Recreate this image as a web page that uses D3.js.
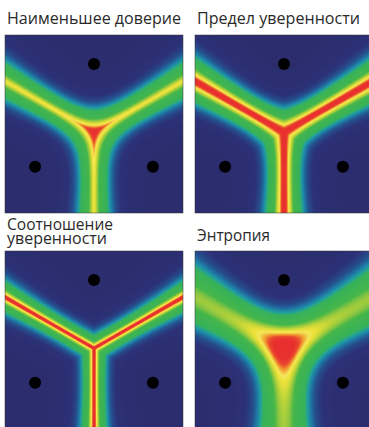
<!DOCTYPE html>
<html>
<head>
<meta charset="utf-8">
<script src="https://cdn.jsdelivr.net/npm/d3@7"></script>
<style>
  html, body { margin: 0; padding: 0; background: #fff; }
  svg { display: block; }
  text { font-family: "Open Sans", "Noto Sans", sans-serif; fill: #2a2a2a; }
</style>
</head>
<body>
<svg id="chart" width="369" height="427"></svg>
<script>
// Uncertainty sampling measures over a 2D feature space with three classes.
const titles = [
  ["Наименьшее доверие"],
  ["Предел уверенности"],
  ["Соотношение", "уверенности"],
  ["Энтропия"]
];
const measures = ["leastConfidence", "marginConfidence", "ratioConfidence", "entropy"];

// Class centres in the unit square (y points up).
const centerX = [0.5, 0.169, 0.831];
const centerY = [0.837, 0.26, 0.26];

// Class model p_c ∝ exp(-gamma * d_c^power).
const gamma = 11.5;
const power = 1.5;

// Colour ramp for normalised uncertainty (0 = certain, 1 = most uncertain).
const rampStops = [0, 0.09, 0.16, 0.22, 0.27, 0.32, 0.55, 0.62, 0.68, 0.73, 0.77, 0.82, 0.87, 0.93, 1];
const rampColors = ["#2b2d6e", "#2c3177", "#24508f", "#1e7fa6", "#22a29a", "#37b15a", "#44b64a",
                    "#8cc640", "#c8d838", "#eee13a", "#f4e65a", "#f0a030", "#ea4a2e", "#e8302e", "#e8302e"];

const svg = d3.select("#chart");
const size = 178;
const panels = [
  { x: 5,   y: 35 },
  { x: 195, y: 35 },
  { x: 5,   y: 251 },
  { x: 195, y: 251 }
];
const titleBaselines = [24, 24, 230, 241];
const titleWidths = [[174], [163], [106, 100], [73]];

const color = d3.scaleLinear().domain(rampStops).range(rampColors)
  .interpolate(d3.interpolateRgb).clamp(true);

const sx = d3.scaleLinear().domain([0, 1]).range([0, size]);
const sy = d3.scaleLinear().domain([0, 1]).range([size, 0]);

function probs(x, y) {
  const e = centerX.map((cx, i) => {
    const dx = x - cx, dy = y - centerY[i];
    return Math.exp(-gamma * Math.pow(dx * dx + dy * dy, power / 2));
  });
  const s = d3.sum(e);
  return e.map(v => v / s);
}

const measureFn = {
  leastConfidence: p => (1 - d3.max(p)) / (1 - 1 / p.length),
  marginConfidence: p => { const q = p.slice().sort(d3.descending); return 1 - (q[0] - q[1]); },
  ratioConfidence: p => { const q = p.slice().sort(d3.descending); return q[1] / q[0]; },
  entropy: p => -d3.sum(p, v => v > 0 ? v * Math.log(v) : 0) / Math.log(p.length)
};

panels.forEach((pn, k) => {
  const canvas = document.createElement("canvas");
  canvas.width = size; canvas.height = size;
  const ctx = canvas.getContext("2d");
  const img = ctx.createImageData(size, size);
  const f = measureFn[measures[k]];
  for (let j = 0; j < size; j++) {
    for (let i = 0; i < size; i++) {
      const v = f(probs(sx.invert(i + 0.5), sy.invert(j + 0.5)));
      const c = d3.rgb(color(v));
      const o = (j * size + i) * 4;
      img.data[o] = c.r; img.data[o + 1] = c.g; img.data[o + 2] = c.b; img.data[o + 3] = 255;
    }
  }
  ctx.putImageData(img, 0, 0);

  const g = svg.append("g").attr("transform", `translate(${pn.x},${pn.y})`);
  g.append("image")
    .attr("width", size).attr("height", size)
    .attr("href", canvas.toDataURL());
  g.append("rect")
    .attr("width", size).attr("height", size)
    .attr("fill", "none").attr("stroke", "#333").attr("stroke-opacity", 0.5);
  g.selectAll("circle").data(centerX.map((cx, i) => ({ x: cx, y: centerY[i] })))
    .join("circle")
    .attr("cx", d => sx(d.x)).attr("cy", d => sy(d.y))
    .attr("r", 6).attr("fill", "#000");

  // Titles; the two-line title is set as tspans sharing one text element.
  const t = svg.append("text")
    .attr("x", pn.x + 2)
    .attr("y", titleBaselines[k])
    .attr("font-size", 17);
  titles[k].forEach((line, li) => {
    t.append("tspan")
      .attr("x", pn.x + 2)
      .attr("dy", li === 0 ? 0 : 14)
      .attr("textLength", titleWidths[k][li])
      .attr("lengthAdjust", "spacingAndGlyphs")
      .text(line);
  });
});
</script>
</body>
</html>
